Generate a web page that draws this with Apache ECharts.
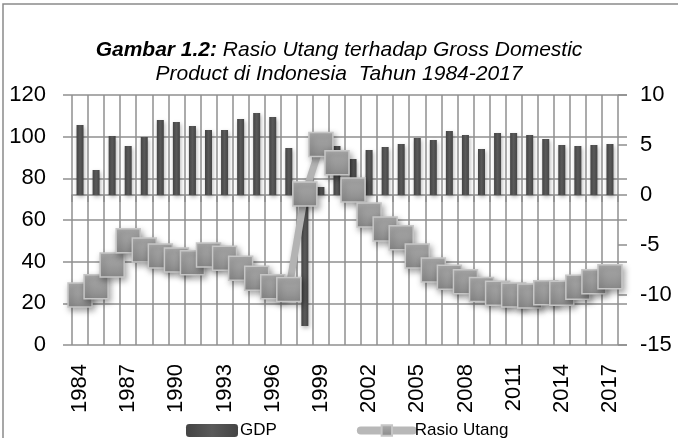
<!DOCTYPE html>
<html>
<head>
<meta charset="utf-8">
<script src="https://cdn.jsdelivr.net/npm/echarts@6/dist/echarts.min.js"></script>
<style>
  html, body { margin: 0; padding: 0; background: #fff; }
  #chart { width: 678px; height: 438px; }
</style>
</head>
<body>
<div id="chart"></div>
<script>
var years = ['1984','1985','1986','1987','1988','1989','1990','1991','1992','1993',
    '1994','1995','1996','1997','1998','1999','2000','2001','2002','2003',
    '2004','2005','2006','2007','2008','2009','2010','2011','2012','2013',
    '2014','2015','2016','2017'];
// pertumbuhan GDP (%), sumbu kanan
var gdp = [7.0, 2.5, 5.9, 4.9, 5.8, 7.5, 7.3, 6.9, 6.5, 6.5,
    7.6, 8.2, 7.8, 4.7, -13.1, 0.8, 4.9, 3.6, 4.5, 4.8,
    5.1, 5.7, 5.5, 6.4, 6.0, 4.6, 6.2, 6.2, 6.0, 5.6,
    5.0, 4.9, 5.0, 5.1];
// rasio utang (%), sumbu kiri
var rasioUtang = [24, 28, 38.4, 50, 45.6, 42.7, 40.8, 39.5, 43.2, 41.6,
    36.8, 32, 28, 26.7, 72.5, 96.3, 87.5, 74.4, 62.4, 55.7,
    51.5, 42.7, 36, 32.5, 30.4, 26.7, 24.8, 24, 23.5, 25.1,
    24.8, 27.7, 30.4, 32.8];
var leftTicks = [0, 120, 20];
var rightTicks = [-15, 10, 5];

var gridColor = '#8f8f8f';
var font = 'Liberation Sans';

var option = {
    animation: false,
    backgroundColor: '#fff',
    textStyle: { fontFamily: font },
    title: {
        text: '{b|Gambar 1.2:}{i| Rasio Utang terhadap Gross Domestic}\n{i|Product di Indonesia  Tahun 1984-2017}',
        left: 'center',
        top: 33,
        textStyle: {
            fontWeight: 'normal',
            rich: {
                b: { fontFamily: font, fontSize: 21, fontWeight: 'bold', fontStyle: 'italic', color: '#000', lineHeight: 24 },
                i: { fontFamily: font, fontSize: 21, fontWeight: 'normal', fontStyle: 'italic', color: '#000', lineHeight: 24 }
            }
        }
    },
    legend: {
        left: 181,
        top: 417,
        itemWidth: 52,
        itemHeight: 13,
        itemGap: 80,
        textStyle: { fontFamily: font, fontSize: 17, color: '#000', padding: [0, 0, 0, -3] },
        data: [
            { name: 'GDP' },
            { name: 'Rasio Utang', lineStyle: { width: 8, cap: 'round', color: '#b8b8b8' } }
        ]
    },
    graphic: [{
        type: 'rect',
        shape: { x: 3, y: 4, width: 690, height: 450 },
        style: { fill: null, stroke: '#8a8a8a', lineWidth: 1.5 },
        silent: true
    }],
    grid: [
        { left: 63, right: 51, top: 95, bottom: 93 },
        { left: 72, right: 60, top: 95, bottom: 93 }
    ],
    xAxis: [
        { type: 'value', gridIndex: 0, min: 0, max: 1, show: false },
        {
            type: 'category', gridIndex: 1, data: years, boundaryGap: true,
            axisLine: { show: true, lineStyle: { color: gridColor, width: 1.5 } },
            axisTick: { show: true, interval: 0, length: 7, lineStyle: { color: gridColor, width: 1.5 } },
            axisLabel: { interval: 2, rotate: 90, fontSize: 22, color: '#000', margin: 19 },
            splitLine: { show: true, interval: 0, lineStyle: { color: gridColor, width: 1.5 } }
        }
    ],
    yAxis: [
        {
            type: 'value', gridIndex: 0, min: leftTicks[0], max: leftTicks[1], interval: leftTicks[2],
            axisLine: { show: false }, axisTick: { show: false },
            axisLabel: { fontSize: 22, color: '#000', margin: 17 },
            splitLine: { show: true, lineStyle: { color: gridColor, width: 1.5 } }
        },
        {
            type: 'value', gridIndex: 1, position: 'right', offset: 9,
            min: rightTicks[0], max: rightTicks[1], interval: rightTicks[2],
            axisLine: { show: false },
            axisTick: { show: true, inside: true, length: 9, lineStyle: { color: gridColor, width: 1.5 } },
            axisLabel: { fontSize: 22, color: '#000', margin: 13 },
            splitLine: { show: false }
        },
        {
            type: 'value', gridIndex: 1, min: leftTicks[0], max: leftTicks[1], show: false
        }
    ],
    series: [
        {
            name: 'GDP',
            type: 'bar',
            xAxisIndex: 1,
            yAxisIndex: 1,
            barWidth: 7,
            data: gdp,
            itemStyle: {
                color: new echarts.graphic.LinearGradient(0, 0, 1, 0, [
                    { offset: 0, color: '#444' },
                    { offset: 0.5, color: '#5a5a5a' },
                    { offset: 1, color: '#444' }
                ]),
                shadowBlur: 4,
                shadowColor: 'rgba(0,0,0,0.3)',
                shadowOffsetX: 1,
                shadowOffsetY: 2
            }
        },
        {
            name: 'Rasio Utang',
            type: 'line',
            xAxisIndex: 1,
            yAxisIndex: 2,
            data: rasioUtang,
            symbol: 'rect',
            symbolSize: 24,
            showAllSymbol: true,
            lineStyle: {
                color: '#b3b3b3',
                width: 7,
                shadowBlur: 4,
                shadowColor: 'rgba(0,0,0,0.25)',
                shadowOffsetY: 2
            },
            itemStyle: {
                color: new echarts.graphic.LinearGradient(0, 0, 0, 1, [
                    { offset: 0, color: '#adadad' },
                    { offset: 1, color: '#8a8a8a' }
                ]),
                borderColor: '#c6c6c6',
                borderWidth: 1.5,
                shadowBlur: 6,
                shadowColor: 'rgba(0,0,0,0.35)',
                shadowOffsetX: 2,
                shadowOffsetY: 3
            },
            z: 3
        }
    ]
};

var myEcharts = echarts.init(document.getElementById('chart'));
myEcharts.setOption(option);
</script>
</body>
</html>
